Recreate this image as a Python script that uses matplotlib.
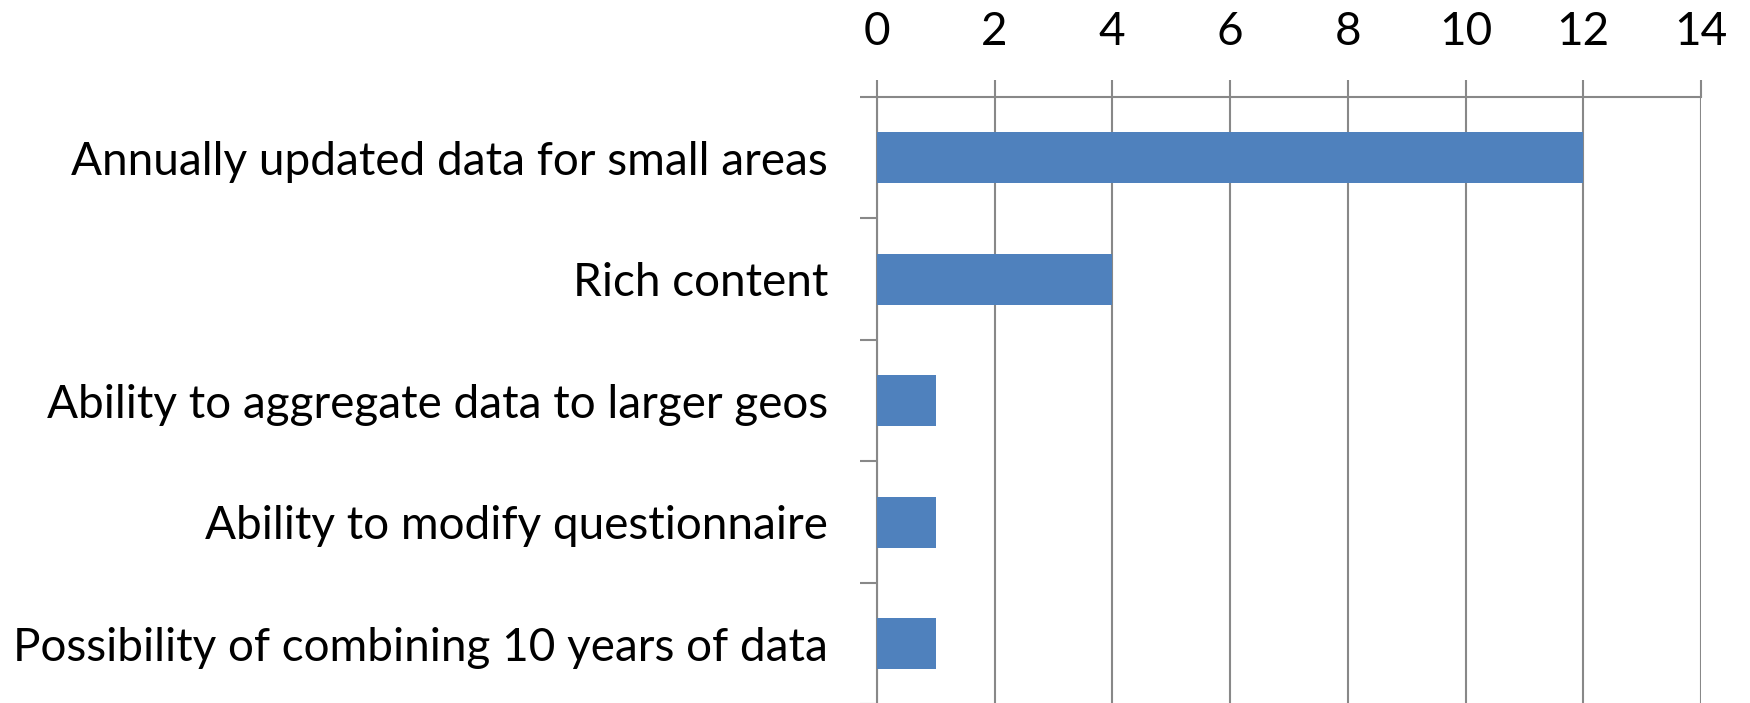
import matplotlib
matplotlib.use('Agg')
import matplotlib.pyplot as plt

# data
kategori = [
    "Annually updated data for small areas",
    "Rich content",
    "Ability to aggregate data to larger geos",
    "Ability to modify questionnaire",
    "Possibility of combining 10 years of data",
]
nilai = [12, 4, 1, 1, 1]
x_ticks = [0, 2, 4, 6, 8, 10, 12, 14]

plt.rcParams['font.family'] = ['Lato', 'DejaVu Sans']

fig = plt.figure(figsize=(17.5, 7.03), dpi=100)
ax = fig.add_axes([0.501, -0.002, 0.471, 0.864])

posisi = list(range(len(kategori)))
ax.barh(posisi, nilai, height=0.42, color='#4F81BD', zorder=3)

ax.set_xlim(0, 14)
ax.set_ylim(len(kategori) - 0.5, -0.5)

# sumbu x di atas
ax.xaxis.tick_top()
ax.set_xticks(x_ticks)
ax.tick_params(axis='x', which='major', length=12, width=1.5, color='#888888',
               labelsize=33, pad=20, direction='out')
ax.grid(axis='x', color='#888888', linewidth=1.5, zorder=0)

# sumbu y: label di tengah bar, tick di batas kategori
ax.set_yticks(posisi)
ax.set_yticklabels(kategori)
ax.tick_params(axis='y', which='major', length=0, labelsize=33, pad=35)
ax.set_yticks([p - 0.5 for p in range(len(kategori) + 1)], minor=True)
ax.tick_params(axis='y', which='minor', length=12, width=1.5, color='#888888')

for s in ['right', 'bottom']:
    ax.spines[s].set_visible(False)
for s in ['top', 'left']:
    ax.spines[s].set_color('#888888')
    ax.spines[s].set_linewidth(1.5)

fig.savefig('out.png', dpi=100)
